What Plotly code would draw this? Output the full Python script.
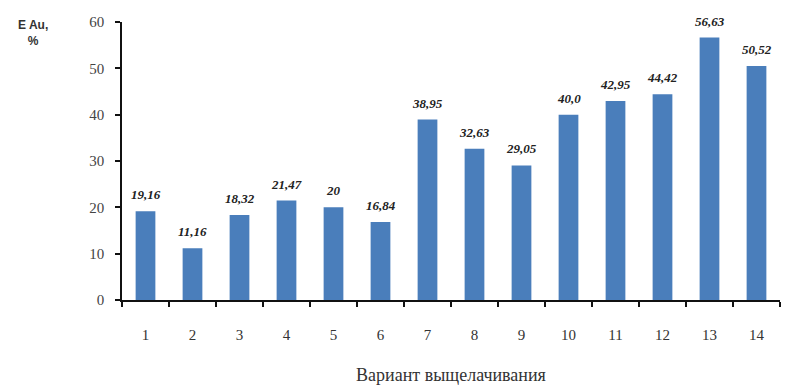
import plotly.graph_objects as go

# Вариант выщелачивания и извлечение золота, %
variants = [str(i) for i in range(1, 15)]
recovery = [19.16, 11.16, 18.32, 21.47, 20.0, 16.84, 38.95, 32.63, 29.05, 40.0, 42.95, 44.42, 56.63, 50.52]
value_labels = ["19,16", "11,16", "18,32", "21,47", "20", "16,84", "38,95", "32,63",
                "29,05", "40,0", "42,95", "44,42", "56,63", "50,52"]
y_ticks = [0, 10, 20, 30, 40, 50, 60]

bar_color = "#4a7ebb"
serif = "Liberation Serif, Times New Roman, serif"

fig = go.Figure()
fig.add_trace(go.Bar(
    x=variants,
    y=recovery,
    marker=dict(color=bar_color, line=dict(width=0)),
    width=0.42,
    hoverinfo="skip",
))

# value labels above each bar (category axis: position by index)
for idx, (val, lab) in enumerate(zip(recovery, value_labels)):
    fig.add_annotation(
        x=idx, y=val, text=f"<b><i>{lab}</i></b>", showarrow=False,
        xref="x", yref="y", yanchor="bottom", yshift=7,
        font=dict(family=serif, size=13, color="#222222"),
    )

# y-axis caption
fig.add_annotation(
    x=-0.135, y=1.02, xref="paper", yref="paper",
    text="<b>E Au,</b><br><b>%</b>", showarrow=False,
    xanchor="center", yanchor="top", align="center",
    font=dict(family="Liberation Sans, Arial, sans-serif", size=12, color="#333333"),
)

fig.update_layout(
    width=790, height=392,
    margin=dict(l=122, r=10, t=22, b=92),
    paper_bgcolor="white", plot_bgcolor="white",
    showlegend=False,
    xaxis=dict(
        type="category",
        range=[-0.5, 13.5],
        showline=True, linecolor="#111111", linewidth=1.5,
        ticks="outside", tickson="boundaries", ticklen=5, tickcolor="#111111", tickwidth=1.5,
        tickfont=dict(family=serif, size=15, color="#333333"),
        ticklabelstandoff=20,
        showgrid=False,
        title=dict(text="Вариант выщелачивания", font=dict(family=serif, size=18, color="#333333"), standoff=27),
    ),
    yaxis=dict(
        range=[0, 60], tickvals=y_ticks,
        showline=True, linecolor="#111111", linewidth=1.5,
        ticks="outside", ticklen=5, tickcolor="#111111", tickwidth=1.5,
        tickfont=dict(family=serif, size=15, color="#444444"),
        showgrid=False, zeroline=False,
        ticklabelstandoff=8,
    ),
)

fig.write_html("out.html")
